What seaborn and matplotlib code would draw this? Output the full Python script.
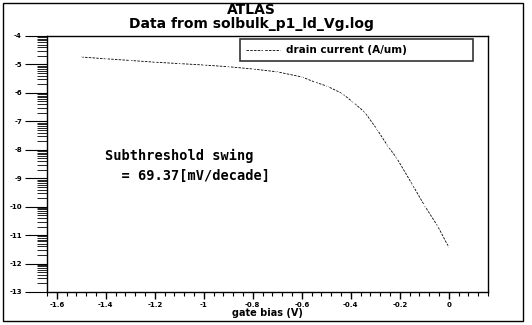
import numpy as np
import pandas as pd
import matplotlib
matplotlib.use("Agg")
import matplotlib.pyplot as plt
import seaborn as sns
from matplotlib.ticker import MultipleLocator, FixedLocator
from matplotlib.patches import Rectangle

sns.set_style("ticks")
plt.rcParams['font.family'] = ['DejaVu Sans']
plt.rcParams.update({"text.color": "black", "axes.labelcolor": "black",
                     "xtick.color": "black", "ytick.color": "black"})

gate_bias = [-1.5, -1.4, -1.3, -1.2, -1.1, -1.0, -0.9, -0.8, -0.7, -0.6, -0.547,
             -0.498, -0.437, -0.392, -0.343, -0.294, -0.249, -0.212, -0.147, -0.1,
             -0.045, 0.0]
log_id = [-4.74, -4.80, -4.86, -4.92, -4.97, -5.02, -5.08, -5.16, -5.26, -5.44, -5.62,
          -5.76, -6.01, -6.32, -6.68, -7.27, -7.87, -8.30, -9.25, -9.95,
          -10.69, -11.43]
title1 = "ATLAS"
title2 = "Data from solbulk_p1_ld_Vg.log"
series_name = "drain current (A/um)"
xlabel = "gate bias (V)"
annot = "Subthreshold swing\n  = 69.37[mV/decade]"
x_ticks = [-1.6, -1.4, -1.2, -1.0, -0.8, -0.6, -0.4, -0.2, 0.0]
x_tick_labels = ["-1.6", "-1.4", "-1.2", "-1", "-0.8", "-0.6", "-0.4", "-0.2", "0"]
y_ticks = [-4, -5, -6, -7, -8, -9, -10, -11, -12, -13]

df = pd.DataFrame({"gate bias": gate_bias, "log Id": log_id, "series": series_name})

fig = plt.figure(figsize=(5.32, 3.25), dpi=100)
ax = fig.add_axes([47/532, 1-292/325, (488-47)/532, (292-36)/325])

sns.lineplot(data=df, x="gate bias", y="log Id", hue="series", palette=["black"],
             ax=ax, lw=0.6, linestyle=(0, (3, 1.5)), marker="x", markersize=2.5,
             markeredgewidth=0.5)

ax.set_xlim(-1.64, 0.16)
ax.set_ylim(-13, -4)

for s in ax.spines.values():
    s.set_linewidth(1.0)
    s.set_color("black")

ax.set_xticks(x_ticks)
ax.set_xticklabels(x_tick_labels)
ax.xaxis.set_minor_locator(MultipleLocator(0.04))
ax.tick_params(axis="x", which="major", length=5, width=1, labelsize=5, pad=2)
ax.tick_params(axis="x", which="minor", length=3, width=0.8)

ax.set_yticks(y_ticks)
ax.set_yticklabels([str(v) for v in y_ticks])
minors = [d + np.log10(k) for d in range(-13, -4) for k in range(2, 10)]
ax.yaxis.set_minor_locator(FixedLocator(minors))
ax.tick_params(axis="y", which="major", length=16, width=0.8, labelsize=5, pad=2)
ax.tick_params(axis="y", which="minor", length=7, width=0.6)
for lab in ax.get_xticklabels() + ax.get_yticklabels():
    lab.set_fontweight("bold")

ax.set_xlabel(xlabel, fontsize=7, fontweight="bold", labelpad=0)
ax.set_ylabel("")

leg = ax.legend(loc="upper left",
                bbox_to_anchor=((240-47)/441, 1-(42-36)/256, (473-240)/441, 0.01),
                mode="expand", frameon=True, fancybox=False, edgecolor="black",
                handlelength=3.3, handletextpad=0.6, borderpad=0.55, borderaxespad=0,
                prop={"weight": "bold", "size": 7.5})
leg.get_frame().set_linewidth(1.2)
leg.set_title(None)

ax.text((105-47)/441, 1 - (149-36)/256, annot, transform=ax.transAxes,
        fontsize=9.8, family="DejaVu Sans Mono", fontweight="bold",
        va="top", ha="left", linespacing=1.55)

fig.text(251/532, 1-10/325, title1, ha="center", va="center", fontsize=10, fontweight="bold")
fig.text(251/532, 1-24/325, title2, ha="center", va="center", fontsize=10, fontweight="bold")

fig.patches.append(Rectangle((3/532, 4/325), 520/532, 318/325, transform=fig.transFigure,
                             fill=False, edgecolor="black", lw=1.0))

fig.savefig("out.png", dpi=100)
